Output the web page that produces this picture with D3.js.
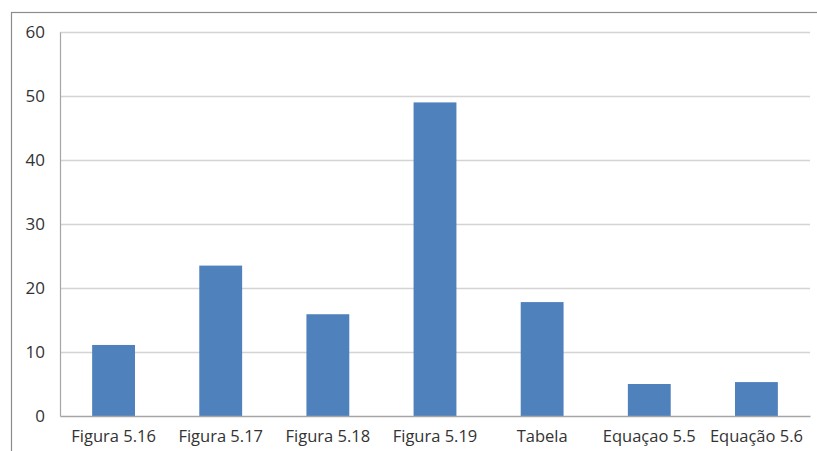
<!DOCTYPE html>
<html>
<head>
<meta charset="utf-8">
<script src="https://cdn.jsdelivr.net/npm/d3@7"></script>
<style>
  html, body { margin: 0; padding: 0; background: #fff; }
  svg { display: block; }
  text { font-family: "Open Sans", "DejaVu Sans", sans-serif; fill: #333; }
</style>
</head>
<body>
<svg id="chart" width="817" height="451"></svg>
<script>
// Categories and their counts
const categories = ["Figura 5.16", "Figura 5.17", "Figura 5.18", "Figura 5.19", "Tabela", "Equaçao 5.5", "Equação 5.6"];
const values = [11.1, 23.5, 15.9, 49, 17.8, 5.0, 5.3];
const yTicks = [0, 10, 20, 30, 40, 50, 60];

const svg = d3.select("#chart");
const W = 817, H = 451;
const margin = { top: 32, right: 7, bottom: 35, left: 60 };
const plotW = W - margin.left - margin.right;
const plotH = H - margin.top - margin.bottom;

// Outer chart frame (extends past the right and bottom edges)
svg.append("rect")
  .attr("x", 11.5).attr("y", 12.5)
  .attr("width", W).attr("height", H)
  .attr("fill", "none")
  .attr("stroke", "#8c8c8c")
  .attr("stroke-width", 1.2);

const g = svg.append("g").attr("transform", `translate(${margin.left},${margin.top})`);

const x = d3.scaleBand()
  .domain(categories)
  .range([0, plotW])
  .paddingInner(0.6)
  .paddingOuter(0.3);

const y = d3.scaleLinear().domain([0, 60]).range([plotH, 0]);

// Horizontal gridlines
g.append("g")
  .selectAll("line")
  .data(yTicks.filter(t => t > 0))
  .join("line")
  .attr("x1", 0).attr("x2", plotW)
  .attr("y1", d => Math.round(y(d)) + 0.5)
  .attr("y2", d => Math.round(y(d)) + 0.5)
  .attr("stroke", "#d4d4d4")
  .attr("stroke-width", 1.5);

// Y axis
const yAxis = g.append("g")
  .call(d3.axisLeft(y).tickValues(yTicks).tickSize(0).tickPadding(15));
yAxis.select(".domain").attr("stroke", "#a6a6a6").attr("stroke-width", 1.2);
yAxis.selectAll("text").style("font-size", "17px").attr("fill", "#333");

// Bars
g.append("g")
  .selectAll("rect")
  .data(values)
  .join("rect")
  .attr("x", (d, i) => x(categories[i]))
  .attr("y", d => y(d))
  .attr("width", x.bandwidth())
  .attr("height", d => plotH - y(d))
  .attr("fill", "#4f81bd");

// X axis
const xAxis = g.append("g")
  .attr("transform", `translate(0,${plotH})`)
  .call(d3.axisBottom(x).tickSize(0).tickPadding(14));
xAxis.select(".domain").attr("stroke", "#a6a6a6").attr("stroke-width", 1.5);
xAxis.selectAll("text").style("font-size", "16.5px").attr("fill", "#333");
</script>
</body>
</html>
